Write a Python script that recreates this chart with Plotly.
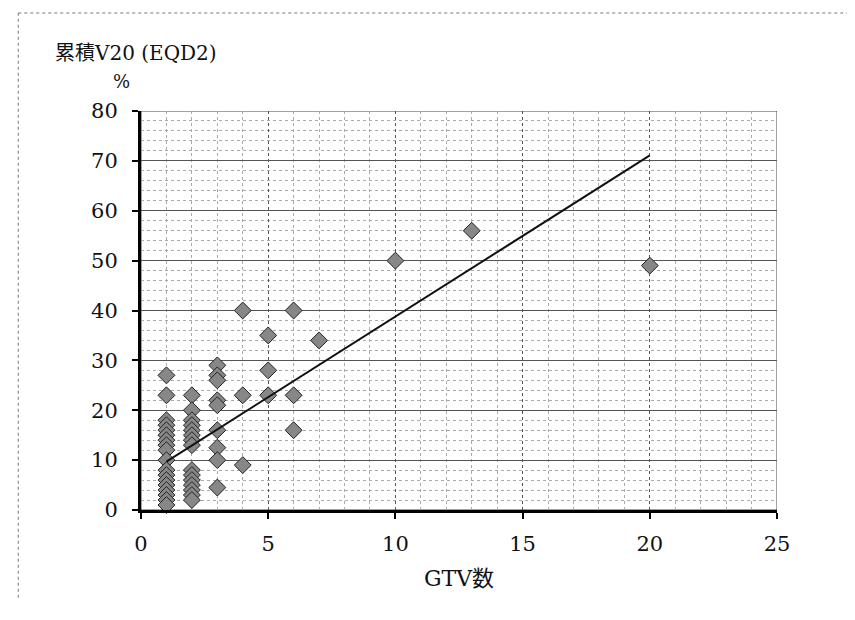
import plotly.graph_objects as go

# GTV count (x) and cumulative V20 EQD2 % (y)
gtv = ([1] * 18 + [2] * 15 + [3] * 9 + [4] * 3 + [5] * 3 + [6] * 3
       + [7, 10, 13, 20])
v20 = ([27, 23, 18, 17, 16, 15, 14, 13, 12, 10, 8, 7, 6, 5, 4, 3, 2, 1]
       + [23, 20, 18, 17, 16, 15, 14, 13, 8, 7, 6, 5, 4, 3, 2]
       + [29, 27, 26, 22, 21, 16, 12.5, 10, 4.5]
       + [40, 23, 9]
       + [35, 28, 23]
       + [40, 23, 16]
       + [34, 50, 56, 49])

# linear trend line end points
trend_x = [1, 20]
trend_y = [9.7, 71.1]

x_ticks = [0, 5, 10, 15, 20, 25]
y_ticks = [0, 10, 20, 30, 40, 50, 60, 70, 80]

SERIF = "DejaVu Serif, Liberation Serif, Noto Sans CJK JP"

fig = go.Figure()
fig.add_trace(go.Scatter(
    x=gtv, y=v20, mode="markers",
    marker=dict(symbol="diamond", size=13, color="#878787",
                line=dict(color="#222222", width=1)),
    showlegend=False, cliponaxis=False))
fig.add_trace(go.Scatter(
    x=trend_x, y=trend_y, mode="lines",
    line=dict(color="#111111", width=2), showlegend=False))

fig.update_xaxes(
    range=[0, 25], tickvals=x_ticks, ticks="outside", ticklen=6, tickwidth=2,
    tickcolor="#000", showline=True, linecolor="#000", linewidth=3,
    showgrid=True, gridcolor="#555", gridwidth=1, griddash="dot",
    minor=dict(dtick=1, showgrid=True, gridcolor="#aaa", griddash="dot",
               gridwidth=1),
    zeroline=False, ticklabelstandoff=7,
    tickfont=dict(family=SERIF, size=21, color="#111"),
    title=dict(text="GTV数", font=dict(family=SERIF, size=22, color="#111"),
               standoff=16))
fig.update_yaxes(
    range=[0, 80], tickvals=y_ticks, ticks="outside", ticklen=6, tickwidth=2,
    tickcolor="#000", showline=True, linecolor="#000", linewidth=3,
    showgrid=True, gridcolor="#555", gridwidth=1,
    minor=dict(dtick=2, showgrid=True, gridcolor="#aaa", griddash="dot",
               gridwidth=1),
    zeroline=False, ticklabelstandoff=10,
    tickfont=dict(family=SERIF, size=21, color="#111"))

fig.add_shape(type="rect", xref="x", yref="y", x0=0, x1=25, y0=0, y1=80,
              line=dict(color="#444", width=1), layer="below")
# outer chart border (top and left)
fig.add_shape(type="line", xref="paper", yref="paper",
              x0=-0.193, x1=1.13, y0=1.2456, y1=1.2456,
              line=dict(color="#777", width=1, dash="dot"))
fig.add_shape(type="line", xref="paper", yref="paper",
              x0=-0.193, x1=-0.193, y0=-0.22, y1=1.2456,
              line=dict(color="#777", width=1, dash="dot"))

fig.add_annotation(text="累積V20 (EQD2)", xref="paper", yref="paper",
                   x=-0.139, y=1.145, xanchor="left", yanchor="middle",
                   showarrow=False,
                   font=dict(family=SERIF, size=20, color="#111"))
fig.add_annotation(text="%", xref="paper", yref="paper",
                   x=-0.03, y=1.075, xanchor="center", yanchor="middle",
                   showarrow=False,
                   font=dict(family=SERIF, size=18, color="#111"))

fig.update_layout(
    width=855, height=620,
    margin=dict(l=133, r=86, t=103, b=118),
    paper_bgcolor="white", plot_bgcolor="white")

fig.write_html("out.html")
